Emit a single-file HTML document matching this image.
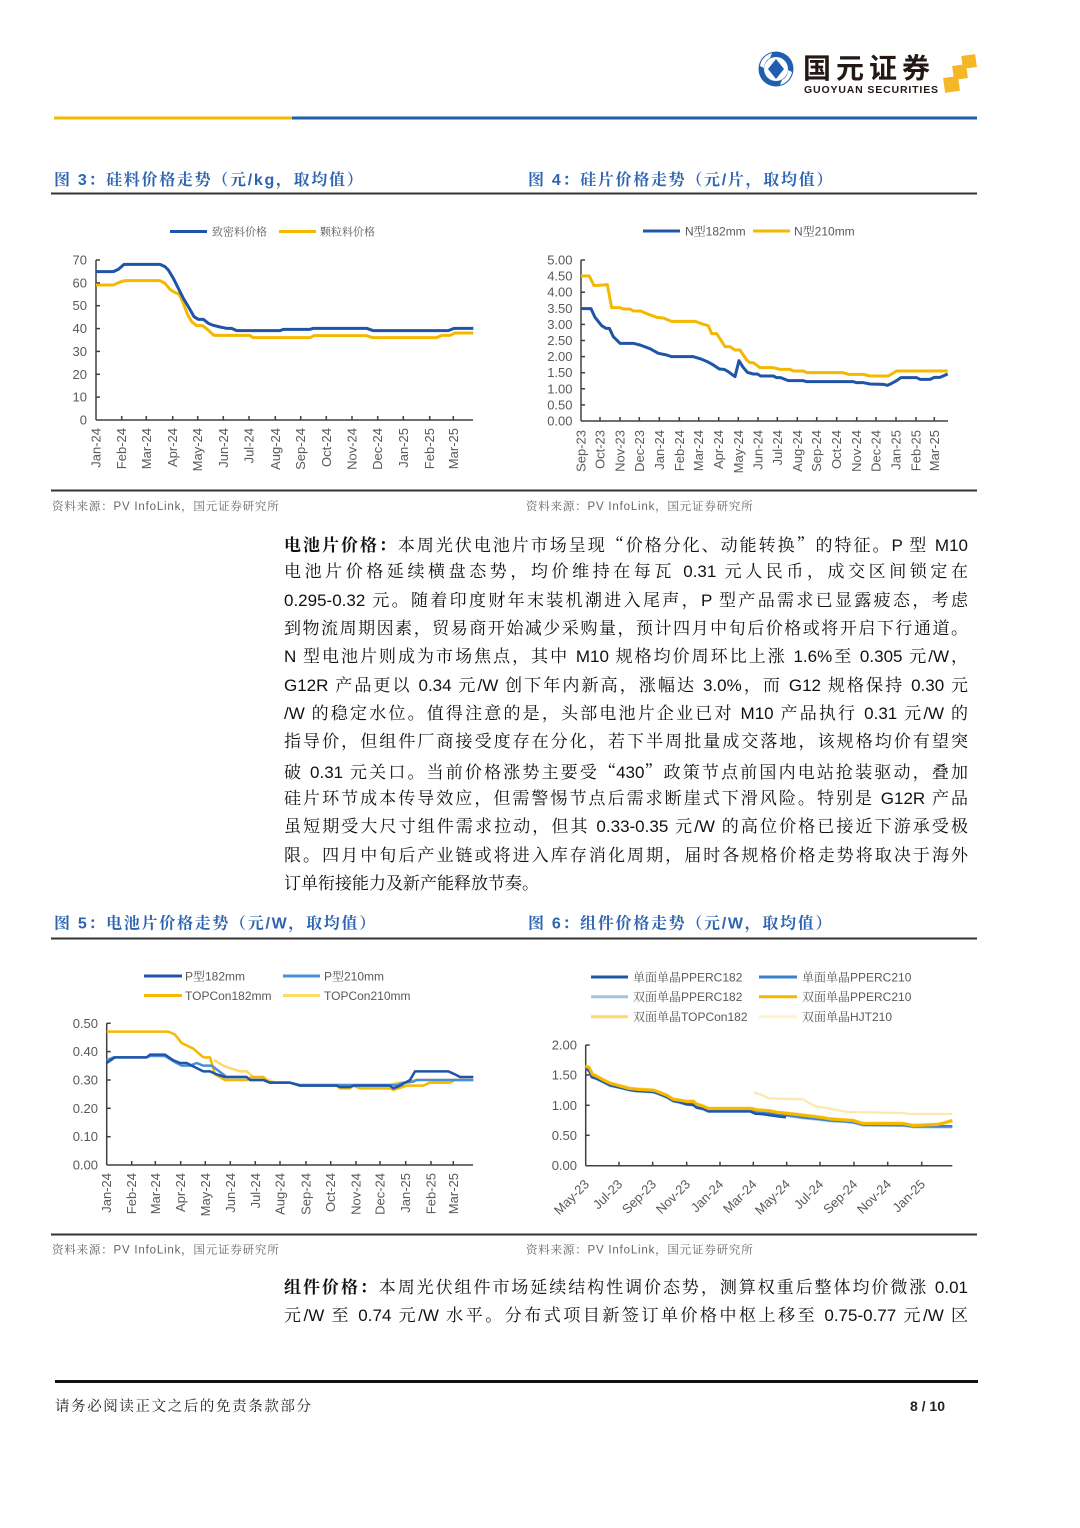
<!DOCTYPE html>
<html><head><meta charset="utf-8">
<style>
html,body{margin:0;padding:0;background:#fff;}
body{width:1080px;height:1528px;position:relative;overflow:hidden;}
svg{position:absolute;left:0;top:0;}
.lab{font-family:"Liberation Sans",sans-serif;font-size:13px;fill:#595959;}
.leg{font-family:"Liberation Sans","Noto Serif CJK SC",serif;font-size:12px;fill:#595959;}
.ttl{font-family:"Liberation Sans","Noto Serif CJK SC",serif;font-size:16px;font-weight:bold;fill:#2f64b0;letter-spacing:1.7px;}
.src{font-family:"Liberation Sans","Noto Serif CJK SC",serif;font-size:11.5px;fill:#666;letter-spacing:0.8px;}
.p{position:absolute;left:284px;width:684px;font-family:"Liberation Sans","Noto Serif CJK SC",serif;font-size:17px;line-height:28.33px;color:#111;}
.p div{height:28.33px;text-align:justify;text-align-last:justify;white-space:normal;}
.p div.last{text-align-last:left;}
.p b{font-family:"Liberation Sans","Noto Serif CJK SC",serif;font-weight:bold;}
.q{font-family:"Noto Serif CJK SC",serif;}
</style></head>
<body>
<svg width="1080" height="1528" viewBox="0 0 1080 1528" xmlns="http://www.w3.org/2000/svg">
<!-- header logo -->
<circle cx="776" cy="69" r="17.5" fill="#1f5fae"/>
<circle cx="776" cy="69" r="12" fill="#fff"/>
<path d="M776 59 L784 69 L776 79 L768 69 Z" fill="#1f5fae"/>
<path d="M760 66 A16 16 0 0 1 772 53 L770 58 A11 11 0 0 0 764 68 Z" fill="#fff"/>
<path d="M792 72 A16 16 0 0 1 780 85 L782 80 A11 11 0 0 0 788 70 Z" fill="#fff"/>
<text x="803" y="78" style="font-family:'Noto Sans CJK SC','WenQuanYi Zen Hei',sans-serif;font-size:28px;font-weight:bold;fill:#231815;letter-spacing:5px;">国元证券</text>
<text x="804" y="93" style="font-family:'Liberation Sans',sans-serif;font-size:10.5px;font-weight:bold;fill:#231815;letter-spacing:0.85px;">GUOYUAN SECURITIES</text>
<rect x="944" y="77" width="15" height="15" fill="#f6b726" transform="rotate(-8 951 84)"/>
<rect x="953" y="65" width="14" height="14" fill="#f6b726" transform="rotate(-8 960 72)"/>
<rect x="962" y="55" width="14" height="13" fill="#f6b726" transform="rotate(-8 969 61)"/>
<rect x="54" y="116.5" width="238" height="3" fill="#f5b800"/>
<rect x="292" y="116.5" width="685" height="3" fill="#1f5fae"/>

<!-- titles row 1 -->
<text class="ttl" x="54" y="185">图 3：硅料价格走势（元/kg，取均值）</text>
<text class="ttl" x="528" y="185">图 4：硅片价格走势（元/片，取均值）</text>
<rect x="51" y="192.5" width="926" height="2" fill="#333"/>
<rect x="51" y="489.5" width="926" height="2" fill="#333"/>
<text class="src" x="52" y="510">资料来源：PV InfoLink，国元证券研究所</text>
<text class="src" x="526" y="510">资料来源：PV InfoLink，国元证券研究所</text>

<!-- ===== Chart 3 ===== -->
<g>
<line x1="170" y1="231.5" x2="207" y2="231.5" stroke="#1f54a8" stroke-width="3"/>
<text class="leg" x="212" y="235.5" style="font-size:11px">致密料价格</text>
<line x1="279" y1="231.5" x2="316" y2="231.5" stroke="#f5b800" stroke-width="3"/>
<text class="leg" x="320" y="235.5" style="font-size:11px">颗粒料价格</text>
<g stroke="#404040" stroke-width="1.5">
<line x1="96" y1="260" x2="96" y2="420"/>
<line x1="96" y1="420" x2="473" y2="420"/>
<line x1="96" y1="260" x2="100" y2="260"/><line x1="96" y1="282.9" x2="100" y2="282.9"/><line x1="96" y1="305.7" x2="100" y2="305.7"/><line x1="96" y1="328.6" x2="100" y2="328.6"/><line x1="96" y1="351.4" x2="100" y2="351.4"/><line x1="96" y1="374.3" x2="100" y2="374.3"/><line x1="96" y1="397.1" x2="100" y2="397.1"/>
<line x1="121.7" y1="416" x2="121.7" y2="420"/><line x1="146.3" y1="416" x2="146.3" y2="420"/><line x1="172.7" y1="416" x2="172.7" y2="420"/><line x1="197.7" y1="416" x2="197.7" y2="420"/><line x1="223.3" y1="416" x2="223.3" y2="420"/><line x1="249" y1="416" x2="249" y2="420"/><line x1="275.3" y1="416" x2="275.3" y2="420"/><line x1="300.7" y1="416" x2="300.7" y2="420"/><line x1="326.3" y1="416" x2="326.3" y2="420"/><line x1="352" y1="416" x2="352" y2="420"/><line x1="377.7" y1="416" x2="377.7" y2="420"/><line x1="403.3" y1="416" x2="403.3" y2="420"/><line x1="429.7" y1="416" x2="429.7" y2="420"/><line x1="453.3" y1="416" x2="453.3" y2="420"/>
</g>
<g class="lab" text-anchor="end">
<text x="87" y="264.5">70</text><text x="87" y="287.4">60</text><text x="87" y="310.2">50</text><text x="87" y="333.1">40</text><text x="87" y="355.9">30</text><text x="87" y="378.8">20</text><text x="87" y="401.6">10</text><text x="87" y="424.5">0</text>
<text transform="translate(100.5 428) rotate(-90)">Jan-24</text>
<text transform="translate(126.2 428) rotate(-90)">Feb-24</text>
<text transform="translate(150.8 428) rotate(-90)">Mar-24</text>
<text transform="translate(177.2 428) rotate(-90)">Apr-24</text>
<text transform="translate(202.2 428) rotate(-90)">May-24</text>
<text transform="translate(227.8 428) rotate(-90)">Jun-24</text>
<text transform="translate(253.5 428) rotate(-90)">Jul-24</text>
<text transform="translate(279.8 428) rotate(-90)">Aug-24</text>
<text transform="translate(305.2 428) rotate(-90)">Sep-24</text>
<text transform="translate(330.8 428) rotate(-90)">Oct-24</text>
<text transform="translate(356.5 428) rotate(-90)">Nov-24</text>
<text transform="translate(382.2 428) rotate(-90)">Dec-24</text>
<text transform="translate(407.8 428) rotate(-90)">Jan-25</text>
<text transform="translate(434.2 428) rotate(-90)">Feb-25</text>
<text transform="translate(457.8 428) rotate(-90)">Mar-25</text>
</g>
<g transform="translate(50 160) scale(0.33333)" fill="none" stroke-linejoin="round">
<polyline stroke="#f5b800" stroke-width="9" points="138,375 190,375 210,366 225,362 330,362 345,370 360,388 372,396 388,403 400,430 412,462 425,485 440,497 458,497 472,508 492,526 598,526 610,533 780,533 792,527 950,527 968,533 1160,533 1175,526 1200,526 1215,519 1270,519"/>
<polyline stroke="#1f54a8" stroke-width="9" points="138,335 190,335 205,328 222,313 330,313 345,320 355,330 370,355 385,385 400,415 415,440 432,470 445,478 460,478 475,490 490,496 510,501 530,505 545,505 560,512 690,512 700,508 780,508 790,505 950,505 970,512 1195,512 1212,505 1270,505"/>
</g>
</g>

<!-- ===== Chart 4 ===== -->
<g>
<line x1="643" y1="231" x2="680" y2="231" stroke="#1f54a8" stroke-width="3"/>
<text class="leg" x="685" y="235.5">N型182mm</text>
<line x1="753" y1="231" x2="790" y2="231" stroke="#f5b800" stroke-width="3"/>
<text class="leg" x="794" y="235.5">N型210mm</text>
<g stroke="#404040" stroke-width="1.5">
<line x1="581" y1="260" x2="581" y2="421"/>
<line x1="581" y1="421" x2="948" y2="421"/>
<line x1="581" y1="260" x2="585" y2="260"/><line x1="581" y1="276.1" x2="585" y2="276.1"/><line x1="581" y1="292.2" x2="585" y2="292.2"/><line x1="581" y1="308.3" x2="585" y2="308.3"/><line x1="581" y1="324.4" x2="585" y2="324.4"/><line x1="581" y1="340.5" x2="585" y2="340.5"/><line x1="581" y1="356.6" x2="585" y2="356.6"/><line x1="581" y1="372.7" x2="585" y2="372.7"/><line x1="581" y1="388.8" x2="585" y2="388.8"/><line x1="581" y1="404.9" x2="585" y2="404.9"/>
<line x1="600" y1="417" x2="600" y2="421"/><line x1="620" y1="417" x2="620" y2="421"/><line x1="639.3" y1="417" x2="639.3" y2="421"/><line x1="659.3" y1="417" x2="659.3" y2="421"/><line x1="679.3" y1="417" x2="679.3" y2="421"/><line x1="698.7" y1="417" x2="698.7" y2="421"/><line x1="718.7" y1="417" x2="718.7" y2="421"/><line x1="738.3" y1="417" x2="738.3" y2="421"/><line x1="758" y1="417" x2="758" y2="421"/><line x1="777.3" y1="417" x2="777.3" y2="421"/><line x1="797.3" y1="417" x2="797.3" y2="421"/><line x1="816.7" y1="417" x2="816.7" y2="421"/><line x1="836.7" y1="417" x2="836.7" y2="421"/><line x1="856.7" y1="417" x2="856.7" y2="421"/><line x1="876" y1="417" x2="876" y2="421"/><line x1="896" y1="417" x2="896" y2="421"/><line x1="916" y1="417" x2="916" y2="421"/><line x1="934.3" y1="417" x2="934.3" y2="421"/>
</g>
<g class="lab" text-anchor="end">
<text x="572.5" y="264.5">5.00</text><text x="572.5" y="280.6">4.50</text><text x="572.5" y="296.7">4.00</text><text x="572.5" y="312.8">3.50</text><text x="572.5" y="328.9">3.00</text><text x="572.5" y="345">2.50</text><text x="572.5" y="361.1">2.00</text><text x="572.5" y="377.2">1.50</text><text x="572.5" y="393.3">1.00</text><text x="572.5" y="409.4">0.50</text><text x="572.5" y="425.5">0.00</text>
<text transform="translate(585.5 430) rotate(-90)">Sep-23</text>
<text transform="translate(604.5 430) rotate(-90)">Oct-23</text>
<text transform="translate(624.5 430) rotate(-90)">Nov-23</text>
<text transform="translate(643.8 430) rotate(-90)">Dec-23</text>
<text transform="translate(663.8 430) rotate(-90)">Jan-24</text>
<text transform="translate(683.8 430) rotate(-90)">Feb-24</text>
<text transform="translate(703.2 430) rotate(-90)">Mar-24</text>
<text transform="translate(723.2 430) rotate(-90)">Apr-24</text>
<text transform="translate(742.8 430) rotate(-90)">May-24</text>
<text transform="translate(762.5 430) rotate(-90)">Jun-24</text>
<text transform="translate(781.8 430) rotate(-90)">Jul-24</text>
<text transform="translate(801.8 430) rotate(-90)">Aug-24</text>
<text transform="translate(821.2 430) rotate(-90)">Sep-24</text>
<text transform="translate(841.2 430) rotate(-90)">Oct-24</text>
<text transform="translate(861.2 430) rotate(-90)">Nov-24</text>
<text transform="translate(880.5 430) rotate(-90)">Dec-24</text>
<text transform="translate(900.5 430) rotate(-90)">Jan-25</text>
<text transform="translate(920.5 430) rotate(-90)">Feb-25</text>
<text transform="translate(938.8 430) rotate(-90)">Mar-25</text>
</g>
<g transform="translate(520 160) scale(0.33333)" fill="none" stroke-linejoin="round">
<polyline stroke="#f5b800" stroke-width="9" points="183,348 208,348 222,377 262,374 275,443 300,443 310,447 330,447 340,453 362,453 385,463 410,472 430,474 455,484 525,484 550,493 565,497 575,521 590,521 600,536 615,560 630,560 645,570 660,570 680,600 690,608 700,608 720,623 760,623 780,628 810,628 820,633 850,633 860,638 970,638 985,643 1030,643 1050,648 1105,648 1130,633 1283,633"/>
<polyline stroke="#1f54a8" stroke-width="9" points="183,446 213,446 225,472 245,497 258,505 268,505 280,530 300,550 340,550 360,555 390,566 415,580 440,585 455,590 520,590 540,596 560,604 580,615 598,627 612,628 625,635 645,650 657,602 668,620 682,637 700,642 712,642 722,648 760,648 770,653 782,653 805,662 850,662 860,665 1000,665 1010,668 1030,668 1050,672 1090,673 1102,676 1115,670 1128,663 1143,653 1190,653 1200,658 1230,658 1243,652 1260,652 1283,642"/>
</g>
</g>

<!-- titles row 2 -->
<text class="ttl" x="54" y="928.5">图 5：电池片价格走势（元/W，取均值）</text>
<text class="ttl" x="528" y="928.5">图 6：组件价格走势（元/W，取均值）</text>
<rect x="51" y="937.5" width="926" height="2" fill="#333"/>
<rect x="51" y="1233.5" width="926" height="2" fill="#333"/>
<text class="src" x="52" y="1253.5">资料来源：PV InfoLink，国元证券研究所</text>
<text class="src" x="526" y="1253.5">资料来源：PV InfoLink，国元证券研究所</text>

<!-- ===== Chart 5 ===== -->
<g>
<line x1="144" y1="976" x2="182" y2="976" stroke="#1f54a8" stroke-width="3"/>
<text class="leg" x="185" y="980.5">P型182mm</text>
<line x1="283" y1="976" x2="320" y2="976" stroke="#4a90d9" stroke-width="3"/>
<text class="leg" x="324" y="980.5">P型210mm</text>
<line x1="144" y1="995.5" x2="182" y2="995.5" stroke="#f5b800" stroke-width="3"/>
<text class="leg" x="185" y="1000">TOPCon182mm</text>
<line x1="283" y1="995.5" x2="320" y2="995.5" stroke="#ffd966" stroke-width="3"/>
<text class="leg" x="324" y="1000">TOPCon210mm</text>
<g stroke="#404040" stroke-width="1.5">
<line x1="106.7" y1="1023.3" x2="106.7" y2="1165"/>
<line x1="106.7" y1="1165" x2="473" y2="1165"/>
<line x1="106.7" y1="1023.3" x2="110.7" y2="1023.3"/><line x1="106.7" y1="1051.6" x2="110.7" y2="1051.6"/><line x1="106.7" y1="1080" x2="110.7" y2="1080"/><line x1="106.7" y1="1108.3" x2="110.7" y2="1108.3"/><line x1="106.7" y1="1136.7" x2="110.7" y2="1136.7"/>
<line x1="131.7" y1="1161" x2="131.7" y2="1165"/><line x1="155.3" y1="1161" x2="155.3" y2="1165"/><line x1="180.7" y1="1161" x2="180.7" y2="1165"/><line x1="205.3" y1="1161" x2="205.3" y2="1165"/><line x1="230.3" y1="1161" x2="230.3" y2="1165"/><line x1="255.3" y1="1161" x2="255.3" y2="1165"/><line x1="280" y1="1161" x2="280" y2="1165"/><line x1="306" y1="1161" x2="306" y2="1165"/><line x1="330.7" y1="1161" x2="330.7" y2="1165"/><line x1="356" y1="1161" x2="356" y2="1165"/><line x1="380" y1="1161" x2="380" y2="1165"/><line x1="405.7" y1="1161" x2="405.7" y2="1165"/><line x1="431" y1="1161" x2="431" y2="1165"/><line x1="453.3" y1="1161" x2="453.3" y2="1165"/>
</g>
<g class="lab" text-anchor="end">
<text x="98" y="1027.8">0.50</text><text x="98" y="1056.1">0.40</text><text x="98" y="1084.5">0.30</text><text x="98" y="1112.8">0.20</text><text x="98" y="1141.2">0.10</text><text x="98" y="1169.5">0.00</text>
<text transform="translate(111.2 1173) rotate(-90)">Jan-24</text>
<text transform="translate(136.2 1173) rotate(-90)">Feb-24</text>
<text transform="translate(159.8 1173) rotate(-90)">Mar-24</text>
<text transform="translate(185.2 1173) rotate(-90)">Apr-24</text>
<text transform="translate(209.8 1173) rotate(-90)">May-24</text>
<text transform="translate(234.8 1173) rotate(-90)">Jun-24</text>
<text transform="translate(259.8 1173) rotate(-90)">Jul-24</text>
<text transform="translate(284.5 1173) rotate(-90)">Aug-24</text>
<text transform="translate(310.5 1173) rotate(-90)">Sep-24</text>
<text transform="translate(335.2 1173) rotate(-90)">Oct-24</text>
<text transform="translate(360.5 1173) rotate(-90)">Nov-24</text>
<text transform="translate(384.5 1173) rotate(-90)">Dec-24</text>
<text transform="translate(410.2 1173) rotate(-90)">Jan-25</text>
<text transform="translate(435.5 1173) rotate(-90)">Feb-25</text>
<text transform="translate(457.8 1173) rotate(-90)">Mar-25</text>
</g>
<g transform="translate(50 905) scale(0.33333)" fill="none" stroke-linejoin="round">
<polyline stroke="#ffd966" stroke-width="7.5" points="492,465 520,482 545,491 570,499 590,499 610,516 640,516 650,525 680,533 720,533 750,540 1020,540 1040,533 1080,533 1090,525 1270,525"/>
<polyline stroke="#f5b800" stroke-width="7.5" points="170,380 355,380 375,389 395,414 430,431 460,457 480,457 495,508 525,525 590,525 605,516 640,516 660,533 720,533 750,542 860,542 870,550 900,550 910,542 930,550 1020,550 1030,555 1070,542 1120,542 1140,533 1200,533 1215,525 1270,525"/>
<polyline stroke="#4a90d9" stroke-width="7.5" points="170,466 190,457 290,457 300,453 345,453 380,474 395,482 420,482 440,474 460,482 485,482 530,516 590,516 600,525 640,525 660,533 720,533 750,540 1040,540 1060,533 1090,530 1100,525 1270,525"/>
<polyline stroke="#1f54a8" stroke-width="7.5" points="170,474 195,457 290,457 300,449 345,449 370,466 390,474 410,474 425,482 460,499 480,499 500,508 525,516 590,516 600,525 640,525 660,533 720,533 750,542 860,542 870,546 900,546 910,542 1020,542 1030,550 1050,542 1080,525 1095,499 1195,499 1215,508 1230,516 1270,516"/>
</g>
</g>

<!-- ===== Chart 6 ===== -->
<g>
<line x1="591" y1="977" x2="628" y2="977" stroke="#1f54a8" stroke-width="3"/>
<text class="leg" x="633" y="981.5">单面单晶PPERC182</text>
<line x1="759" y1="977" x2="797" y2="977" stroke="#3d7fcf" stroke-width="3"/>
<text class="leg" x="802" y="981.5">单面单晶PPERC210</text>
<line x1="591" y1="996.7" x2="628" y2="996.7" stroke="#9dc3e6" stroke-width="3"/>
<text class="leg" x="633" y="1001">双面单晶PPERC182</text>
<line x1="759" y1="996.7" x2="797" y2="996.7" stroke="#f5b800" stroke-width="3"/>
<text class="leg" x="802" y="1001">双面单晶PPERC210</text>
<line x1="591" y1="1016.7" x2="628" y2="1016.7" stroke="#ffd966" stroke-width="3"/>
<text class="leg" x="633" y="1021">双面单晶TOPCon182</text>
<line x1="759" y1="1016.7" x2="797" y2="1016.7" stroke="#fff2cc" stroke-width="3"/>
<text class="leg" x="802" y="1021">双面单晶HJT210</text>
<g stroke="#404040" stroke-width="1.5">
<line x1="585.7" y1="1045" x2="585.7" y2="1165.7"/>
<line x1="585.7" y1="1165.7" x2="952.3" y2="1165.7"/>
<line x1="585.7" y1="1045" x2="589.7" y2="1045"/><line x1="585.7" y1="1075" x2="589.7" y2="1075"/><line x1="585.7" y1="1105.3" x2="589.7" y2="1105.3"/><line x1="585.7" y1="1135.3" x2="589.7" y2="1135.3"/>
<line x1="619" y1="1161.7" x2="619" y2="1165.7"/><line x1="652.7" y1="1161.7" x2="652.7" y2="1165.7"/><line x1="686.7" y1="1161.7" x2="686.7" y2="1165.7"/><line x1="720" y1="1161.7" x2="720" y2="1165.7"/><line x1="753.3" y1="1161.7" x2="753.3" y2="1165.7"/><line x1="786.7" y1="1161.7" x2="786.7" y2="1165.7"/><line x1="820" y1="1161.7" x2="820" y2="1165.7"/><line x1="854" y1="1161.7" x2="854" y2="1165.7"/><line x1="887.7" y1="1161.7" x2="887.7" y2="1165.7"/><line x1="921.7" y1="1161.7" x2="921.7" y2="1165.7"/>
</g>
<g class="lab" text-anchor="end">
<text x="577" y="1049.5">2.00</text><text x="577" y="1079.5">1.50</text><text x="577" y="1109.8">1.00</text><text x="577" y="1139.8">0.50</text><text x="577" y="1170">0.00</text>
<text transform="translate(590 1185) rotate(-45)">May-23</text>
<text transform="translate(623.3 1185) rotate(-45)">Jul-23</text>
<text transform="translate(657 1185) rotate(-45)">Sep-23</text>
<text transform="translate(691 1185) rotate(-45)">Nov-23</text>
<text transform="translate(724.3 1185) rotate(-45)">Jan-24</text>
<text transform="translate(757.6 1185) rotate(-45)">Mar-24</text>
<text transform="translate(791 1185) rotate(-45)">May-24</text>
<text transform="translate(824.3 1185) rotate(-45)">Jul-24</text>
<text transform="translate(858.3 1185) rotate(-45)">Sep-24</text>
<text transform="translate(892 1185) rotate(-45)">Nov-24</text>
<text transform="translate(926 1185) rotate(-45)">Jan-25</text>
</g>
<g transform="translate(570 1030) scale(0.33333)" fill="none" stroke-linejoin="round">
<polyline stroke="#9dc3e6" stroke-width="8" points="47,115 58,123 65,142 80,147 100,157 120,167 150,174 175,180 200,184 250,187 265,192 290,202 310,214 330,218 350,224 370,226 380,234 400,238 415,245 540,245 560,249 600,252 650,257 700,264 750,269 780,273 820,275 850,278 880,286 1000,287 1030,291 1147,291"/>
<polyline stroke="#3d7fcf" stroke-width="8" points="47,112 58,120 65,139 80,144 100,154 120,164 150,171 175,177 200,181 250,184 265,189 290,199 310,211 330,215 350,221 370,223 380,231 400,235 415,242 540,242 560,247 600,250 650,255 700,262 750,267 780,271 820,273 850,276 880,284 1000,285 1030,289 1147,289"/>
<polyline stroke="#1f54a8" stroke-width="7" points="47,114 58,124 65,141 80,146 100,156 120,166 150,173 175,179 200,183 250,186 265,191 290,201 310,213 330,217 350,223 370,225 380,233 400,237 415,244 540,244 555,251 580,253 600,256 630,260 648,262"/>
<polyline stroke="#ffd966" stroke-width="8" points="47,106 58,112 68,132 80,137 100,148 120,158 150,166 175,173 200,176 250,179 265,184 290,194 310,206 330,209 350,213 370,212 380,221 400,227 415,234 545,234 560,238 600,241 620,245 650,248 700,254 750,260 780,265 820,268 850,270 880,279 1000,279 1030,285 1100,282 1120,278 1147,270"/>
<polyline stroke="#f5b800" stroke-width="9" points="47,108 58,114 68,134 80,139 100,150 120,160 150,168 175,175 200,178 250,181 265,186 290,196 310,208 330,211 350,215 370,214 380,223 400,229 415,236 545,236 560,240 600,243 620,247 650,250 700,256 750,262 780,267 820,270 850,272 880,281 1000,281 1030,287 1100,284 1120,280 1147,272"/>
<polyline stroke="#fde9ad" stroke-width="7" points="552,187 565,192 580,196 595,205 700,208 715,218 740,230 770,234 800,240 830,246 1000,249 1020,252 1147,252"/>
</g>
</g>

<!-- footer -->
<rect x="55" y="1380" width="923" height="3" fill="#111"/>
<text x="55" y="1411" style="font-family:'Noto Serif CJK SC',serif;font-size:14.5px;fill:#222;letter-spacing:1.6px;">请务必阅读正文之后的免责条款部分</text>
<text x="945" y="1411" text-anchor="end" style="font-family:'Liberation Sans',sans-serif;font-size:14px;font-weight:bold;fill:#222;">8 / 10</text>
</svg>

<div class="p" style="top:530px;">
<div><b>电池片价格：</b>本周光伏电池片市场呈现<span class="q">“</span>价格分化、动能转换<span class="q">”</span>的特征。P 型 M10</div>
<div>电池片价格延续横盘态势，均价维持在每瓦 0.31 元人民币，成交区间锁定在</div>
<div>0.295-0.32 元。随着印度财年末装机潮进入尾声，P 型产品需求已显露疲态，考虑</div>
<div>到物流周期因素，贸易商开始减少采购量，预计四月中旬后价格或将开启下行通道。</div>
<div>N 型电池片则成为市场焦点，其中 M10 规格均价周环比上涨 1.6%至 0.305 元/W，</div>
<div>G12R 产品更以 0.34 元/W 创下年内新高，涨幅达 3.0%，而 G12 规格保持 0.30 元</div>
<div>/W 的稳定水位。值得注意的是，头部电池片企业已对 M10 产品执行 0.31 元/W 的</div>
<div>指导价，但组件厂商接受度存在分化，若下半周批量成交落地，该规格均价有望突</div>
<div>破 0.31 元关口。当前价格涨势主要受<span class="q">“</span>430<span class="q">”</span>政策节点前国内电站抢装驱动，叠加</div>
<div>硅片环节成本传导效应，但需警惕节点后需求断崖式下滑风险。特别是 G12R 产品</div>
<div>虽短期受大尺寸组件需求拉动，但其 0.33-0.35 元/W 的高位价格已接近下游承受极</div>
<div>限。四月中旬后产业链或将进入库存消化周期，届时各规格价格走势将取决于海外</div>
<div class="last">订单衔接能力及新产能释放节奏。</div>
</div>

<div class="p" style="top:1274px;">
<div><b>组件价格：</b>本周光伏组件市场延续结构性调价态势，测算权重后整体均价微涨 0.01</div>
<div>元/W 至 0.74 元/W 水平。分布式项目新签订单价格中枢上移至 0.75-0.77 元/W 区</div>
</div>
</body></html>
